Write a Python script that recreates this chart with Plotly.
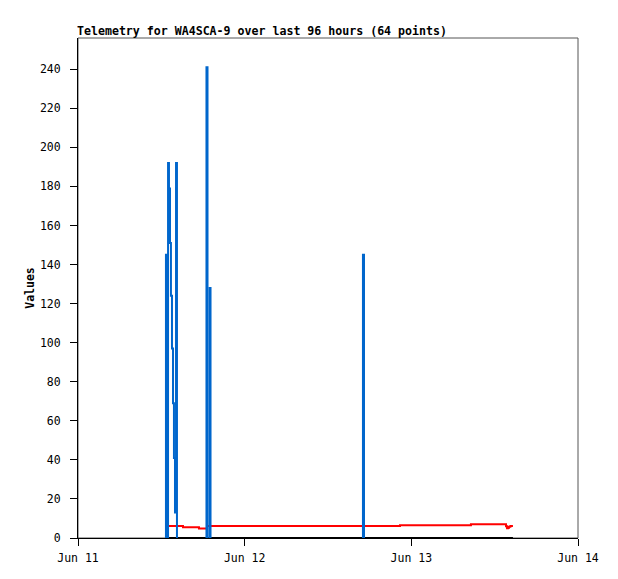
import plotly.graph_objects as go

# ---- data ----
blue_times = [
    "2024-06-11 12:36", "2024-06-11 12:40", "2024-06-11 12:49", "2024-06-11 12:53", None,
    "2024-06-11 12:55", "2024-06-11 12:58", "2024-06-11 13:06", "2024-06-11 13:15",
    "2024-06-11 13:23", "2024-06-11 13:32", "2024-06-11 13:41", "2024-06-11 13:49",
    "2024-06-11 13:58", "2024-06-11 14:07", "2024-06-11 14:15", None,
    "2024-06-11 18:26", "2024-06-11 18:30", "2024-06-11 18:39", None,
    "2024-06-11 18:52", "2024-06-11 18:56", "2024-06-11 19:05", None,
    "2024-06-12 16:58", "2024-06-12 17:02", "2024-06-12 17:11",
]
blue_values = [
    0, 145, 0, 0, None,
    0, 192, 179, 151,
    124, 97, 69, 41,
    13, 192, 0, None,
    0, 241, 0, None,
    0, 128, 0, None,
    0, 145, 0,
]

red_times = [
    "2024-06-11 12:32", "2024-06-11 15:07", "2024-06-11 17:25", "2024-06-11 18:35",
    "2024-06-12 22:22", "2024-06-13 08:35", "2024-06-13 13:38", "2024-06-13 13:47",
    "2024-06-13 13:55", "2024-06-13 14:04", "2024-06-13 14:13", "2024-06-13 14:21",
    "2024-06-13 14:38",
]
red_values = [6.1, 5.5, 4.9, 6.1, 6.5, 7.0, 6.0, 5.0, 5.3, 5.8, 6.0, 6.1, 6.1]

black_times = ["2024-06-11 12:32", "2024-06-13 14:38"]
black_values = [0, 0]

x_range = ["2024-06-11", "2024-06-14"]
y_range = [0, 256]
title_text = "Telemetry for WA4SCA-9 over last 96 hours (64 points)"
y_title = "Values"

FONT = "DejaVu Sans Mono"
# page body has an 8px margin; figure sized so the plot area lands where the reference has it
W, H = 602, 563

fig = go.Figure()
fig.add_trace(go.Scatter(x=black_times, y=black_values, mode="lines",
                         line=dict(color="#000000", width=2), showlegend=False))
fig.add_trace(go.Scatter(x=red_times, y=red_values, mode="lines",
                         line=dict(color="#ff0000", width=2, shape="hv"), showlegend=False))
fig.add_trace(go.Scatter(x=blue_times, y=blue_values, mode="lines", connectgaps=False,
                         line=dict(color="#0066cc", width=2, shape="hv"), showlegend=False))

fig.update_layout(
    width=W, height=H,
    margin=dict(l=70, r=32, t=30, b=33, autoexpand=False),
    paper_bgcolor="white", plot_bgcolor="white",
    font=dict(family=FONT, size=11.5, color="#000000"),
    title=dict(text="<b>" + title_text + "</b>", x=69/W, xanchor="left",
               y=1 - 23/H, yanchor="middle",
               font=dict(family=FONT, size=11.6, color="#000000")),
    shapes=[dict(type="rect", xref="paper", yref="paper", x0=0, x1=1, y0=0, y1=1,
                 line=dict(color="#555555", width=1), layer="below")],
)
fig.update_xaxes(
    type="date", range=x_range, dtick=86400000, tickformat="%b %d",
    showgrid=False, zeroline=False, showline=True, linecolor="#000000", linewidth=1,
    ticks="outside", ticklen=7, tickcolor="#000000", tickwidth=1,
    tickfont=dict(family=FONT, size=11.5, color="#000000"),
    ticklabelstandoff=2, automargin=False,
)
fig.update_yaxes(
    range=y_range, dtick=20, tick0=0,
    showgrid=False, zeroline=False, showline=True, linecolor="#000000", linewidth=1,
    ticks="outside", ticklen=7, tickcolor="#000000", tickwidth=1,
    tickfont=dict(family=FONT, size=11.5, color="#000000"),
    ticklabelstandoff=7, automargin=False,
    title=dict(text="<b>" + y_title + "</b>", standoff=2,
               font=dict(family=FONT, size=11.5, color="#000000")),
)

fig.write_html("out.html")
